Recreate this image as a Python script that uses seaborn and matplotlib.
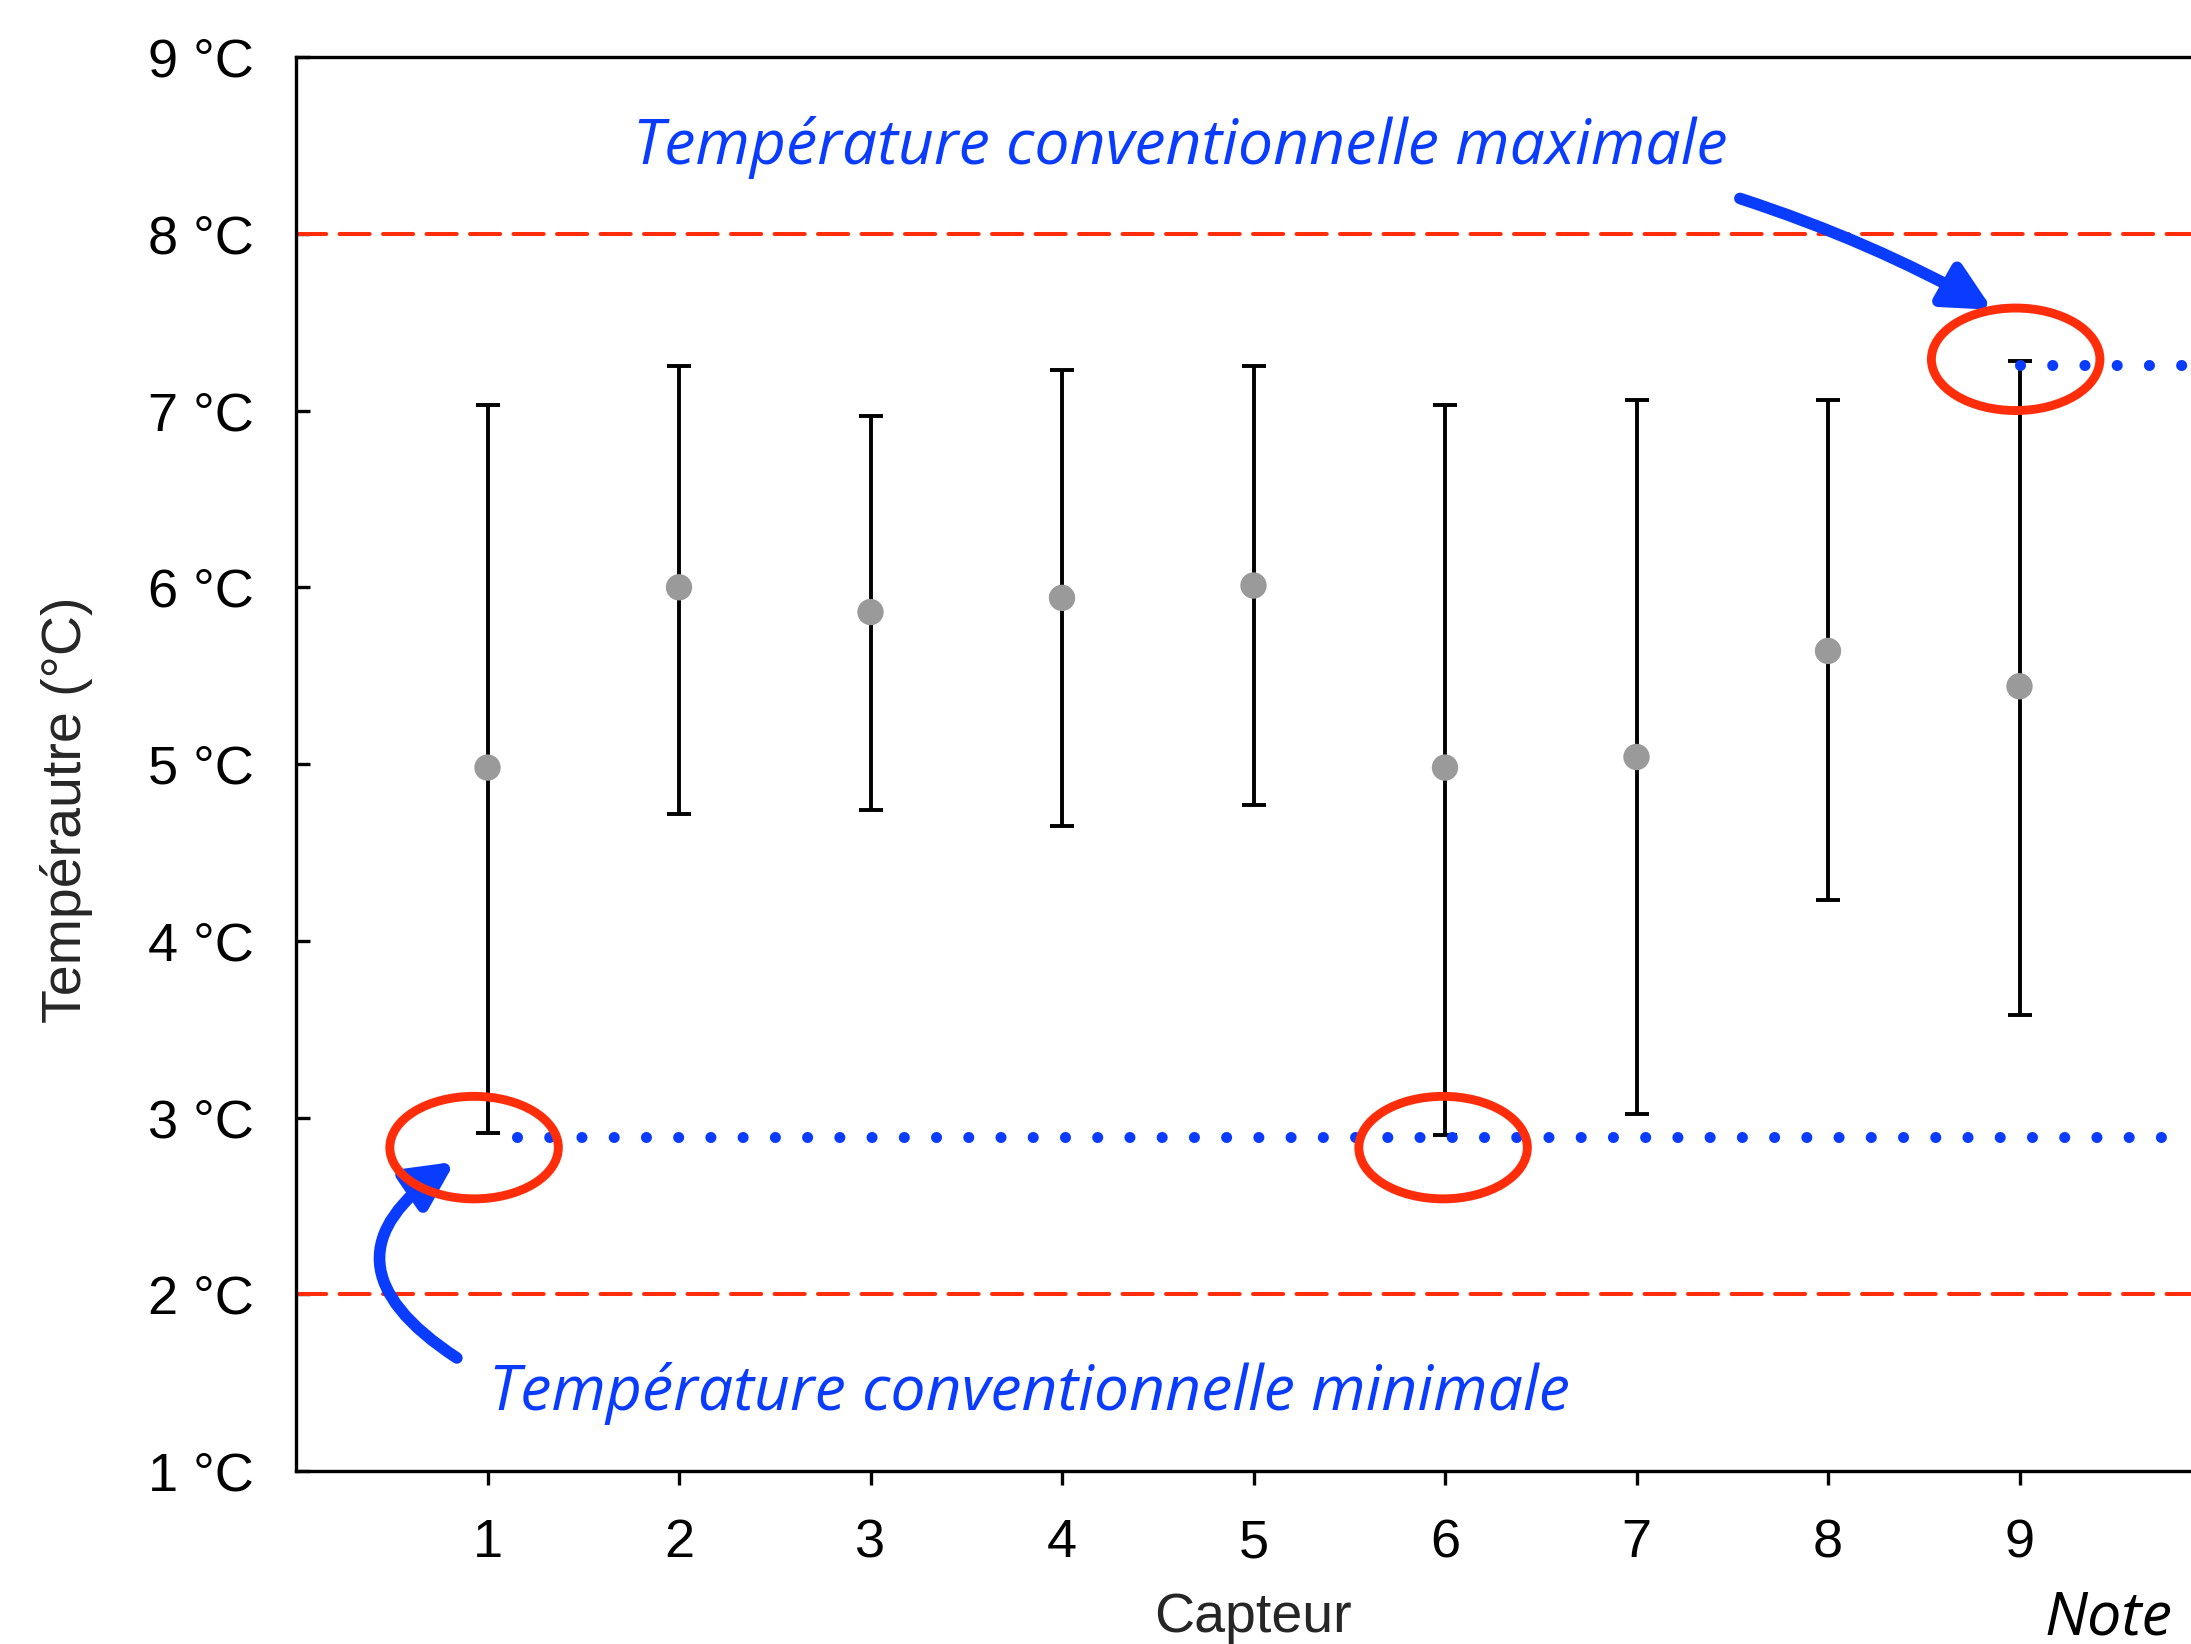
import numpy as np
import pandas as pd
import matplotlib
matplotlib.use("Agg")
import matplotlib.pyplot as plt
from matplotlib.patches import Ellipse
import seaborn as sns

# ---- data ----
capteurs = [1, 2, 3, 4, 5, 6, 7, 8, 9]
moyennes = [4.98, 6.00, 5.86, 5.94, 6.01, 4.98, 5.04, 5.64, 5.44]
maximums = [7.03, 7.25, 6.97, 7.23, 7.25, 7.03, 7.06, 7.06, 7.28]
minimums = [2.91, 4.72, 4.74, 4.65, 4.77, 2.90, 3.02, 4.23, 3.58]
seuils = [2, 8]
yticks = [1, 2, 3, 4, 5, 6, 7, 8, 9]
ytick_labels = ["1 °C", "2 °C", "3 °C", "4 °C", "5 °C", "6 °C", "7 °C", "8 °C", "9 °C"]
texte_max = "Température conventionnelle maximale"
texte_min = "Température conventionnelle minimale"

df = pd.DataFrame({"Capteur": capteurs, "Moyenne": moyennes,
                   "Max": maximums, "Min": minimums})

sns.set_theme(style="white")
plt.rcParams["font.family"] = ["Liberation Sans", "DejaVu Sans"]

W, H, DPI = 2191, 1644, 200
fig = plt.figure(figsize=(W / DPI, H / DPI), dpi=DPI)
ax = fig.add_axes([296 / W, 0.1052, 2106.5 / W, 0.8601])
ax.set_xlim(0, 11)
ax.set_ylim(1, 9)

blue = "#0a3cff"
red = "#ff2d0a"

# threshold lines
for s in seuils:
    ax.axhline(s, color=red, lw=1.45, dashes=(7.5, 3.3), dash_capstyle="round", zorder=1)

# error bars
lo = df["Moyenne"] - df["Min"]
hi = df["Max"] - df["Moyenne"]
ax.errorbar(df["Capteur"], df["Moyenne"], yerr=[lo, hi], fmt="none",
            ecolor="black", elinewidth=1.4, capsize=4.2, capthick=1.4, zorder=2)
sns.scatterplot(data=df, x="Capteur", y="Moyenne", ax=ax, color="#9a9a9a",
                s=90, marker="o", edgecolor="none", zorder=3, legend=False)

# dotted min / max lines
vmin = min(minimums) - 0.01
vmax = max(maximums) - 0.02
ax.plot([capteurs[0] + 0.155, 11], [vmin, vmin], color=blue, lw=4.0,
        linestyle=(0, (0.001, 2.9)), dash_capstyle="round", zorder=4)
ax.plot([capteurs[8], 11], [vmax, vmax], color=blue, lw=4.0,
        linestyle=(0, (0.001, 2.9)), dash_capstyle="round", zorder=4)

# red ellipses
for (cx, cy) in [(0.93, 2.83), (5.99, 2.83), (8.98, 7.29)]:
    e = Ellipse((cx, cy), 0.88, 0.58, fill=False, edgecolor=red, lw=3.2, zorder=5)
    ax.add_patch(e)

# annotation texts and arrows
hand = dict(color=blue, fontsize=22.5, family=["Open Sans", "DejaVu Sans"], style="italic")
ax.text(1.76, 8.49, texte_max, ha="left", va="center", **hand)
ax.text(1.01, 1.44, texte_min, ha="left", va="center", **hand)

ax.annotate("", xy=(8.86, 7.57), xytext=(7.54, 8.20),
            arrowprops=dict(arrowstyle="-|>,head_length=0.5,head_width=0.25",
                            mutation_scale=28, color=blue, lw=4.2,
                            connectionstyle="arc3,rad=-0.05", shrinkA=0, shrinkB=0))
ax.annotate("", xy=(0.83, 2.75), xytext=(0.84, 1.64),
            arrowprops=dict(arrowstyle="-|>,head_length=0.5,head_width=0.25",
                            mutation_scale=28, color=blue, lw=4.2,
                            connectionstyle="arc3,rad=-0.75", shrinkA=0, shrinkB=0))

# axes styling
ax.set_xticks(capteurs)
ax.set_xticklabels([str(c) for c in capteurs])
ax.set_yticks(yticks)
ax.set_yticklabels(ytick_labels)
ax.tick_params(axis="x", direction="out", length=5, width=1.2, pad=12,
               labelsize=19.5, colors="black", bottom=True)
ax.tick_params(axis="y", direction="in", length=5, width=1.2, pad=15,
               labelsize=19.5, colors="black", left=True)
for side in ["left", "bottom", "top"]:
    ax.spines[side].set_visible(True)
    ax.spines[side].set_color("black")
    ax.spines[side].set_linewidth(1.2)
ax.spines["right"].set_visible(False)
ax.set_xlabel("")
ax.set_ylabel("")

fig.text(1253 / W, 1 - 1618 / H, "Capteur", ha="center", va="center", fontsize=20)
fig.text(67 / W, 1 - 810 / H, "Tempérautre (°C)", ha="center", va="center",
         rotation=90, fontsize=20)
fig.text(2172 / W, 1 - 1618 / H, "Note", ha="right", va="center", fontsize=22,
         color="black", family=["Open Sans", "DejaVu Sans"], style="italic")

fig.savefig("out.png", dpi=DPI)
